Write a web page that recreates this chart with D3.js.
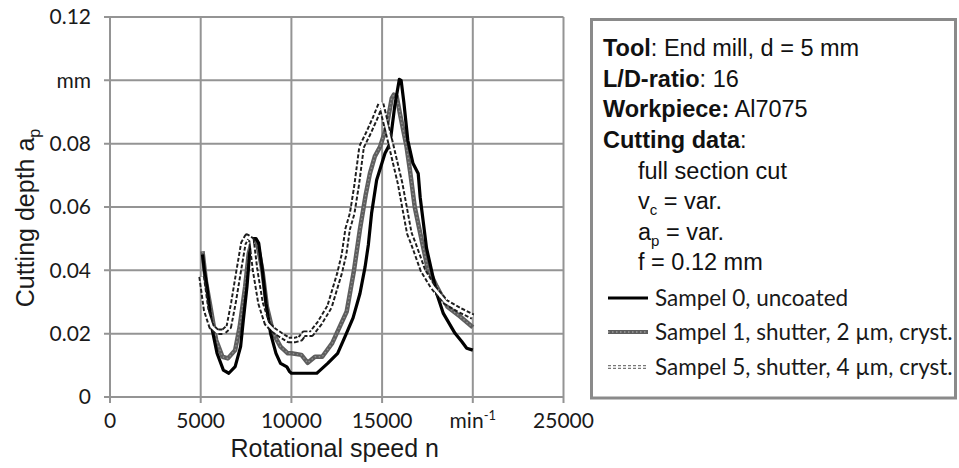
<!DOCTYPE html>
<html><head><meta charset="utf-8">
<script src="https://cdn.jsdelivr.net/npm/d3@7"></script>
<style>
html,body{margin:0;padding:0;background:#fff;}
svg{display:block;}
</style></head>
<body>
<svg id="c" width="959" height="468"></svg>
<script>
// ---- data ----
const xTicks = [0, 5000, 10000, 15000, 20000, 25000];
const xTickLabels = ["0", "5000", "10000", "15000", "min-1", "25000"];
const yTicks = [0, 0.02, 0.04, 0.06, 0.08, 0.10, 0.12];
const yTickLabels = ["0", "0.02", "0.04", "0.06", "0.08", "mm", "0.12"];

const s0N = [5100,5200,5350,5600,5900,6250,6550,6900,7200,7350,7550,7700,7900,8050,8200,8400,8600,8850,9150,9400,9750,9900,10000,11400,11500,12000,12550,12950,13400,13780,14060,14240,14420,14700,15160,15435,15700,15850,15950,16050,16200,16420,16700,16990,17100,17450,18010,18375,19020,19390,19665,20000];
const s0V = [0.045,0.040,0.0348,0.0222,0.0138,0.0085,0.0075,0.0096,0.0159,0.0243,0.0348,0.0454,0.0500,0.0500,0.0485,0.040,0.0296,0.0201,0.0138,0.0106,0.0095,0.0080,0.0075,0.0075,0.0080,0.0106,0.0138,0.019,0.025,0.0327,0.041,0.048,0.058,0.0685,0.077,0.080,0.092,0.097,0.1003,0.100,0.093,0.081,0.0738,0.0706,0.063,0.047,0.0327,0.0264,0.0201,0.0175,0.0154,0.0148];

const s1N = [5100,5300,5500,5850,6200,6500,6900,7150,7450,7650,7850,8100,8400,8650,9000,9400,9800,10000,10550,10900,11300,11700,12250,13050,13450,13780,14100,14330,14600,14885,15250,15530,15650,15800,16000,16350,16550,16800,17200,17500,18000,18600,19300,20000];
const s1V = [0.046,0.036,0.0296,0.018,0.0127,0.0122,0.0148,0.0222,0.0348,0.0454,0.0496,0.049,0.040,0.0285,0.0201,0.0159,0.0138,0.0138,0.0133,0.0108,0.0127,0.0127,0.017,0.027,0.040,0.053,0.064,0.0706,0.076,0.079,0.0854,0.0943,0.0955,0.095,0.089,0.079,0.071,0.060,0.049,0.041,0.035,0.0285,0.0254,0.022];

const s5N = [5050,5300,5600,5900,6250,6550,6800,7100,7350,7550,7800,8000,8300,8650,9000,9400,9850,10200,10500,10700,11100,11550,12100,12650,12900,13100,13350,13600,13870,14240,14610,14940,15435,15990,16500,16720,17250,17800,18500,19250,20000];
const s5V = [0.038,0.0275,0.0222,0.0206,0.0206,0.0222,0.0296,0.040,0.0485,0.0506,0.0496,0.040,0.0296,0.0233,0.0212,0.0196,0.018,0.018,0.0185,0.020,0.020,0.0233,0.0285,0.039,0.045,0.053,0.058,0.067,0.079,0.0833,0.088,0.0927,0.081,0.0675,0.0517,0.0485,0.040,0.0348,0.030,0.0275,0.0254];

const seriesNames = ["Sampel 0, uncoated", "Sampel 1, shutter, 2 \u00b5m, cryst.", "Sampel 5, shutter, 4 \u00b5m, cryst."];

// ---- chart ----
const svg = d3.select("#c");
const x = d3.scaleLinear().domain([0, 25000]).range([110, 563.5]);
const y = d3.scaleLinear().domain([0, 0.12]).range([397, 17]);
const gridCol = "#949494";
const tickFont = "Lato, 'Open Sans', sans-serif";
const arial = "'Liberation Sans', Arial, sans-serif";

// gridlines
svg.append("g").selectAll("line.h").data(yTicks).join("line")
  .attr("x1", 104).attr("x2", x(25000)).attr("y1", d => y(d)).attr("y2", d => y(d))
  .attr("stroke", gridCol).attr("stroke-width", 2);
svg.append("g").selectAll("line.v").data(xTicks).join("line")
  .attr("x1", d => x(d)).attr("x2", d => x(d)).attr("y1", y(0.12)).attr("y2", y(0) + 6)
  .attr("stroke", gridCol).attr("stroke-width", 2);

// y tick labels
svg.append("g").selectAll("text").data(yTicks).join("text")
  .attr("x", 91).attr("y", d => y(d)).attr("dy", "0.35em")
  .attr("text-anchor", "end").attr("font-family", tickFont).attr("font-size", 21)
  .attr("fill", "#1a1a1a")
  .text((d, i) => yTickLabels[i]);

// x tick labels
const xl = svg.append("g").selectAll("text").data(xTicks).join("text")
  .attr("x", d => x(d)).attr("y", 428)
  .attr("text-anchor", "middle").attr("font-family", tickFont).attr("font-size", 21)
  .attr("fill", "#1a1a1a");
xl.each(function(d, i) {
  const lab = xTickLabels[i];
  const t = d3.select(this);
  if (lab.startsWith("min")) {
    t.append("tspan").text("min");
    t.append("tspan").attr("dy", -8).attr("font-size", 13).text("-1");
  } else t.text(lab);
});

// axis titles
svg.append("text").attr("x", x(12500) - 2).attr("y", 457)
  .attr("text-anchor", "middle").attr("font-family", arial).attr("font-size", 25)
  .attr("fill", "#1a1a1a").text("Rotational speed n");
const yt = svg.append("text").attr("transform", "translate(34,218) rotate(-90)")
  .attr("text-anchor", "middle").attr("font-family", arial).attr("font-size", 25)
  .attr("fill", "#1a1a1a");
yt.append("tspan").text("Cutting depth a");
yt.append("tspan").attr("dy", 6).attr("font-size", 16).text("p");

// lines
const line = d3.line().x(d => x(d[0])).y(d => y(d[1]));
const zip = (a, b) => a.map((v, i) => [v, b[i]]);
const d0 = zip(s0N, s0V), d1 = zip(s1N, s1V), d5 = zip(s5N, s5V);

function drawS1(sel, data, w) {
  sel.append("path").attr("d", line(data)).attr("fill", "none")
    .attr("stroke", "#5e5e5e").attr("stroke-width", w).attr("stroke-linejoin", "round");
  sel.append("path").attr("d", line(data)).attr("fill", "none")
    .attr("stroke", "#8f8f8f").attr("stroke-width", 1.4).attr("stroke-dasharray", "1.5,2.5");
}
function drawS0(sel, data, w) {
  sel.append("path").attr("d", line(data)).attr("fill", "none")
    .attr("stroke", "#000").attr("stroke-width", w).attr("stroke-linejoin", "round");
}
function drawS5(sel, data, w, wi) {
  sel.append("path").attr("d", line(data)).attr("fill", "none")
    .attr("stroke", "#1e1e1e").attr("stroke-width", w).attr("stroke-dasharray", "4,2")
    .attr("stroke-linejoin", "round");
  sel.append("path").attr("d", line(data)).attr("fill", "none")
    .attr("stroke", "#fff").attr("stroke-width", wi).attr("stroke-linejoin", "round");
}
const gL = svg.append("g");
drawS1(gL, d1, 4.5);
drawS0(gL, d0, 3.2);
drawS5(gL, d5, 6.5, 2.6);

// info box
svg.append("rect").attr("x", 591.5).attr("y", 19.5).attr("width", 364).attr("height", 378.5)
  .attr("fill", "#fff").attr("stroke", "#8a8a8a").attr("stroke-width", 3);

const info = [
  {y: 56, x: 603, parts: [["Tool", true], [": End mill, d = 5 mm", false]]},
  {y: 87, x: 603, parts: [["L/D-ratio", true], [": 16", false]]},
  {y: 117, x: 603, parts: [["Workpiece:", true], [" Al7075", false]]},
  {y: 147.5, x: 603, parts: [["Cutting data", true], [":", false]]},
  {y: 178.5, x: 638, parts: [["full section cut", false]]},
  {y: 209, x: 638, parts: [["v", false], ["c", false, "sub"], [" = var.", false]]},
  {y: 239.5, x: 638, parts: [["a", false], ["p", false, "sub"], [" = var.", false]]},
  {y: 269.5, x: 638, parts: [["f = 0.12 mm", false]]}
];
info.forEach(r => {
  const t = svg.append("text").attr("x", r.x).attr("y", r.y)
    .attr("font-family", arial).attr("font-size", 23.5).attr("fill", "#111");
  let shifted = false;
  r.parts.forEach(p => {
    const ts = t.append("tspan").text(p[0]).attr("font-weight", p[1] ? "bold" : "normal");
    if (p[2] === "sub") { ts.attr("dy", 6).attr("font-size", 15); shifted = true; }
    else if (shifted) { ts.attr("dy", -6); shifted = false; }
  });
});

// legend
const legY = [306, 340, 375];
const lg = svg.append("g");
[0, 1, 2].forEach(i => {
  const ly = legY[i] - 8;
  const ld = [[0, 0], [1, 0]];
  const lsc = d3.line().x(d => 608 + d[0] * 40).y(() => ly);
  if (i === 0) lg.append("path").attr("d", lsc(ld)).attr("stroke", "#000").attr("stroke-width", 3);
  if (i === 1) {
    lg.append("path").attr("d", lsc(ld)).attr("stroke", "#5e5e5e").attr("stroke-width", 4);
    lg.append("path").attr("d", lsc(ld)).attr("stroke", "#9a9a9a").attr("stroke-width", 1.4).attr("stroke-dasharray", "1.5,2.5");
  }
  if (i === 2) {
    lg.append("path").attr("d", lsc(ld)).attr("stroke", "#777").attr("stroke-width", 4).attr("stroke-dasharray", "3,2");
    lg.append("path").attr("d", lsc(ld)).attr("stroke", "#fff").attr("stroke-width", 1.6);
  }
  lg.append("text").attr("x", 655).attr("y", legY[i])
    .attr("font-family", tickFont).attr("font-size", 22.5).attr("fill", "#1a1a1a")
    .text(seriesNames[i]);
});
</script>
</body></html>
